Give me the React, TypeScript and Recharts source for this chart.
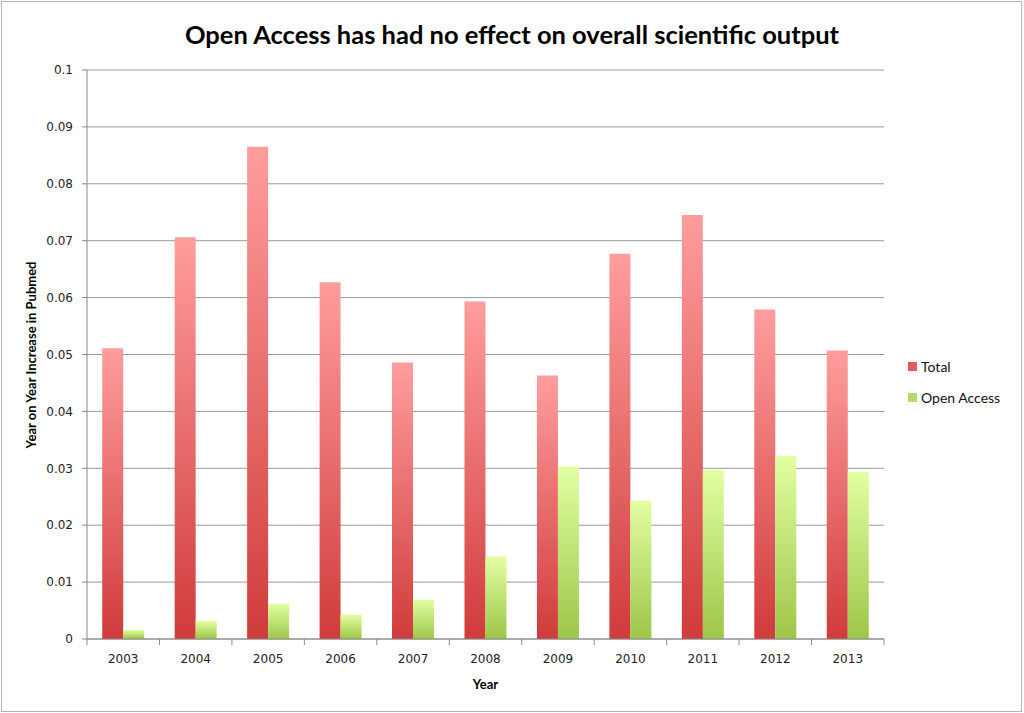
import React from 'react';
import { BarChart, Bar, XAxis, YAxis, CartesianGrid, Label } from 'recharts';

const years = ['2003', '2004', '2005', '2006', '2007', '2008', '2009', '2010', '2011', '2012', '2013'];
const total = [0.0511, 0.0706, 0.0865, 0.0627, 0.0486, 0.0593, 0.0463, 0.0677, 0.0745, 0.0579, 0.0507];
const openAccess = [0.0016, 0.0032, 0.0062, 0.0043, 0.0069, 0.0145, 0.0303, 0.0243, 0.0297, 0.0322, 0.0294];
const yTicks = [0, 0.01, 0.02, 0.03, 0.04, 0.05, 0.06, 0.07, 0.08, 0.09, 0.1];

const data = years.map((year, i) => ({ year, total: total[i], openAccess: openAccess[i] }));

const W = 1024;
const H = 713;
const M = { top: 70, right: 140, bottom: 20, left: 20 };
const BAND = (W - M.left - 67 - M.right) / years.length;

const tickFont = '"DejaVu Sans", sans-serif';
const labelFont = 'Lato, "Open Sans", sans-serif';

function YearTick(props: any) {
  const { x, y, payload, index } = props;
  const left = x - BAND / 2;
  const right = x + BAND / 2;
  return (
    <g>
      <line x1={left} y1={y} x2={left} y2={y + 6} stroke="#888" />
      {index === years.length - 1 && <line x1={right} y1={y} x2={right} y2={y + 6} stroke="#888" />}
      <text x={x} y={y + 24} textAnchor="middle" fontSize={12} fill="#222" fontFamily={tickFont}>
        {payload.value}
      </text>
    </g>
  );
}

const legendItems = [
  { name: 'Total', color: '#e35b5b' },
  { name: 'Open Access', color: '#b5dc6a' },
];

export default function App() {
  return (
    <div style={{ position: 'absolute', left: 0, top: 0, width: W, height: H, background: '#fff' }}>
      <div style={{ position: 'absolute', left: 1, top: 1, width: 1021, height: 711, border: '1px solid #b4b4b4', boxSizing: 'border-box' }} />
      <div style={{ position: 'absolute', left: 0, width: W, top: 19, textAlign: 'center', fontFamily: labelFont, fontWeight: 700, fontSize: 25.5, color: '#000' }}>
        Open Access has had no effect on overall scientific output
      </div>
      <div style={{ position: 'absolute', left: 0, top: 0 }}>
        <BarChart width={W} height={H} data={data} margin={M} barCategoryGap="21%" barGap={0}>
          <defs>
            <linearGradient id="gTotal" x1="0" y1="0" x2="0" y2="1">
              <stop offset="0%" stopColor="#ff9d9d" />
              <stop offset="100%" stopColor="#d03b3b" />
            </linearGradient>
            <linearGradient id="gOpen" x1="0" y1="0" x2="0" y2="1">
              <stop offset="0%" stopColor="#e2ffa2" />
              <stop offset="100%" stopColor="#9cc648" />
            </linearGradient>
          </defs>
          <CartesianGrid vertical={false} stroke="#999" strokeWidth={1} />
          <XAxis
            dataKey="year"
            height={54}
            tickSize={0}
            tickMargin={0}
            tickLine={false}
            stroke="#888"
            tick={<YearTick />}
            interval={0}
          >
            <Label value="Year" position="insideBottom" offset={4} style={{ fontFamily: labelFont, fontWeight: 700, fontSize: 13, fill: '#000' }} />
          </XAxis>
          <YAxis
            width={67}
            domain={[0, 0.1]}
            ticks={yTicks}
            interval={0}
            tickSize={5}
            tickMargin={9}
            stroke="#888"
            tick={{ fontSize: 12, fill: '#222', fontFamily: tickFont }}
          >
            <Label
              content={() => (
                <text
                  x={33}
                  y={355}
                  transform="rotate(-90 33 355)"
                  textAnchor="middle"
                  dominantBaseline="middle"
                  style={{ fontFamily: labelFont, fontWeight: 700, fontSize: 13, fill: '#000' }}
                >
                  Year on Year Increase in Pubmed
                </text>
              )}
            />
          </YAxis>
          <Bar dataKey="total" name="Total" fill="url(#gTotal)" isAnimationActive={false} />
          <Bar dataKey="openAccess" name="Open Access" fill="url(#gOpen)" isAnimationActive={false} />
        </BarChart>
      </div>
      <div style={{ position: 'absolute', left: 908, top: 351, fontFamily: labelFont, fontSize: 14, color: '#111' }}>
        {legendItems.map((it) => (
          <div key={it.name} style={{ display: 'flex', alignItems: 'center', height: 31 }}>
            <span style={{ width: 9, height: 9, background: it.color, marginRight: 4, display: 'inline-block' }} />
            {it.name}
          </div>
        ))}
      </div>
    </div>
  );
}
